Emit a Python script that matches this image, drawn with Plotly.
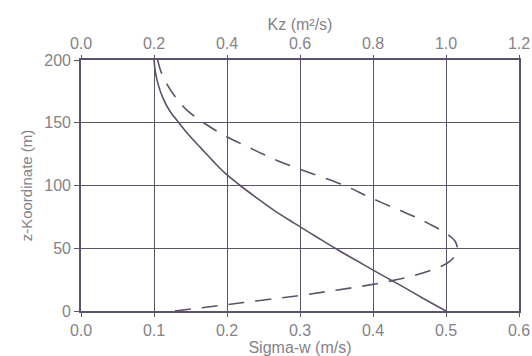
import plotly.graph_objects as go

# Vertical velocity standard deviation profile (bottom axis)
z_sigma = [0, 10, 20, 30, 40, 50, 60, 70, 80, 90, 100, 110, 120, 130, 140, 150, 160, 170, 180, 190, 200]
sigma_w = [0.5, 0.469, 0.439, 0.408, 0.378, 0.348, 0.32, 0.292, 0.265, 0.241, 0.218, 0.197,
           0.18, 0.164, 0.148, 0.134, 0.121, 0.112, 0.106, 0.102, 0.1]

# Eddy diffusivity profile (top axis), traced from the ground upwards
z_kz = [0, 4, 8, 12, 16, 20, 24, 28, 32, 36, 40, 44, 48, 52, 56, 62, 70, 75, 80, 90,
        100, 110, 120, 130, 140, 150, 160, 170, 180, 190, 200]
kz = [0.257, 0.37, 0.48, 0.59, 0.685, 0.775, 0.85, 0.91, 0.955, 0.99, 1.012, 1.025, 1.03, 1.03, 1.024,
      1.0, 0.95, 0.915, 0.875, 0.795, 0.722, 0.628, 0.537, 0.462, 0.392, 0.336, 0.29, 0.26,
      0.237, 0.22, 0.21]

sigma_ticks = [0.0, 0.1, 0.2, 0.3, 0.4, 0.5, 0.6]
kz_ticks = [0.0, 0.2, 0.4, 0.6, 0.8, 1.0, 1.2]
z_ticks = [0, 50, 100, 150, 200]

INK = "#5c5269"
TXT = "#858289"
FONT = "Liberation Sans, Arial, sans-serif"

fig = go.Figure()
fig.add_trace(go.Scatter(
    x=sigma_w, y=z_sigma, mode="lines", xaxis="x", yaxis="y",
    line=dict(color=INK, width=1.6, shape="spline", smoothing=1.0),
    showlegend=False, hoverinfo="skip"))
fig.add_trace(go.Scatter(
    x=kz, y=z_kz, mode="lines", xaxis="x2", yaxis="y",
    line=dict(color=INK, width=1.6, dash="16px,11px", shape="spline", smoothing=1.0),
    showlegend=False, hoverinfo="skip"))

fig.update_layout(
    width=532, height=356,
    margin=dict(l=81, r=13, t=60, b=45),
    paper_bgcolor="white", plot_bgcolor="white",
    font=dict(family=FONT, size=16, color=TXT),
    xaxis=dict(
        range=[0, 0.6], tickvals=sigma_ticks,
        ticktext=[f"{v:.1f}" for v in sigma_ticks],
        showgrid=True, gridcolor=INK, gridwidth=1.4,
        showline=True, linecolor=INK, linewidth=1.6,
        ticks="outside", ticklen=4, tickcolor=INK, tickwidth=1.4,
        zeroline=False, tickfont=dict(size=16, color=TXT), automargin=False,
        title=dict(text="Sigma-w (m/s)", standoff=0, font=dict(size=16, color=TXT)),
    ),
    xaxis2=dict(
        range=[0, 1.2], tickvals=kz_ticks,
        ticktext=[f"{v:.1f}" for v in kz_ticks],
        overlaying="x", side="top", anchor="y",
        showgrid=False, showline=True, linecolor=INK, linewidth=1.6,
        ticks="outside", ticklen=3, tickcolor=INK, tickwidth=1.4,
        zeroline=False, tickfont=dict(size=16, color=TXT), automargin=False,
        title=dict(text="Kz (m²/s)", standoff=0, font=dict(size=16, color=TXT)),
    ),
    yaxis=dict(
        range=[0, 200], tickvals=z_ticks,
        showgrid=True, gridcolor=INK, gridwidth=1.4,
        showline=True, linecolor=INK, linewidth=1.6, mirror=True,
        ticks="outside", ticklen=5, tickcolor=INK, tickwidth=1.4,
        zeroline=False, tickfont=dict(size=16, color=TXT), automargin=False,
        title=dict(text="z-Koordinate (m)", standoff=8, font=dict(size=15, color=TXT)),
    ),
)

fig.write_html("out.html")
